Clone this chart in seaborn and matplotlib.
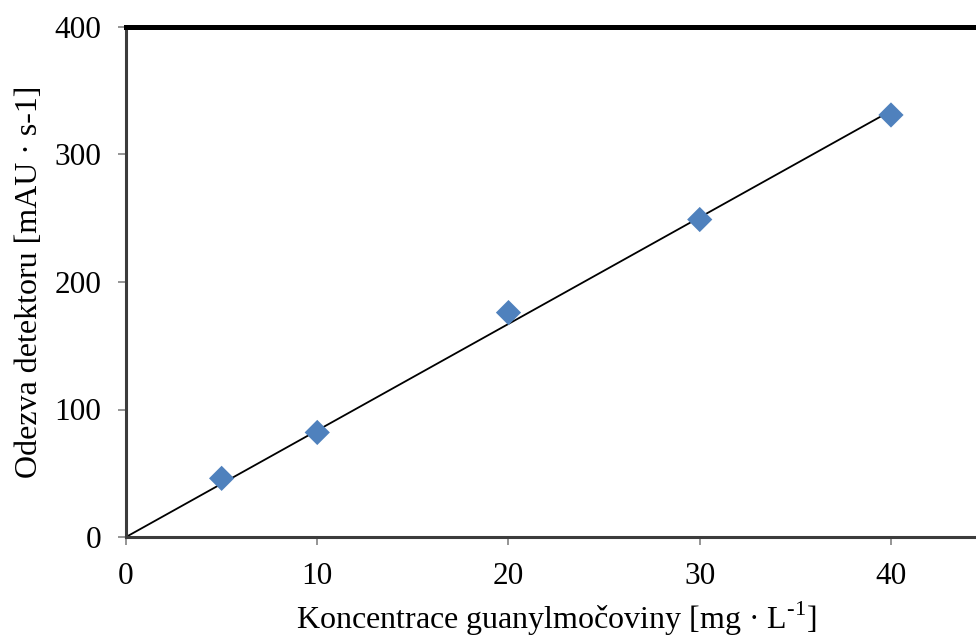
import numpy as np
import pandas as pd
import matplotlib
matplotlib.use("Agg")
import matplotlib.pyplot as plt
import seaborn as sns

# kalibrační data
koncentrace = [5, 10, 20, 30, 40]
odezva = [46, 82, 176, 249, 331]
x_ticks = [0, 10, 20, 30, 40]
y_ticks = [0, 100, 200, 300, 400]

sns.set_theme(style="white")
plt.rcParams['font.family'] = ['Liberation Serif', 'DejaVu Serif']
plt.rcParams['mathtext.fontset'] = 'custom'
plt.rcParams['mathtext.rm'] = 'Liberation Serif'
plt.rcParams['text.color'] = 'black'
plt.rcParams['axes.labelcolor'] = 'black'

df = pd.DataFrame({"c": koncentrace, "a": odezva})

# lineární regrese procházející počátkem
k = np.sum(df["c"] * df["a"]) / np.sum(df["c"] ** 2)
fit = pd.DataFrame({"c": [0, max(koncentrace)]})
fit["a"] = k * fit["c"]

fig = plt.figure(figsize=(9.76, 6.37), dpi=100)
ax = fig.add_axes([126 / 976, 100 / 637, 860.6 / 976, 510 / 637])

sns.lineplot(data=fit, x="c", y="a", ax=ax, color="black", linewidth=1.3, zorder=2)
sns.scatterplot(data=df, x="c", y="a", ax=ax, marker="D", s=165,
                color="#4F81BD", edgecolor="none", zorder=3)

ax.set_xlim(0, 45)
ax.set_ylim(0, 400)
ax.set_xticks(x_ticks)
ax.set_yticks(y_ticks)

for side in ["left", "bottom"]:
    ax.spines[side].set_color("#3c3c3c")
    ax.spines[side].set_linewidth(2.2)
ax.spines["top"].set_color("black")
ax.spines["top"].set_linewidth(3.6)
ax.spines["right"].set_visible(False)

ax.tick_params(axis="both", which="major", direction="out", length=6, width=1.3,
               color="#8c8c8c", labelsize=22.5, pad=12, labelcolor="black",
               left=True, bottom=True)

ax.set_xlabel("Koncentrace guanylmočoviny [mg · L$^{\\text{-1}}$]",
              fontsize=23, labelpad=6, color="black")
ax.set_ylabel("Odezva detektoru [mAU · s-1]", fontsize=23, labelpad=7, color="black")

fig.savefig("out.png", dpi=100)
